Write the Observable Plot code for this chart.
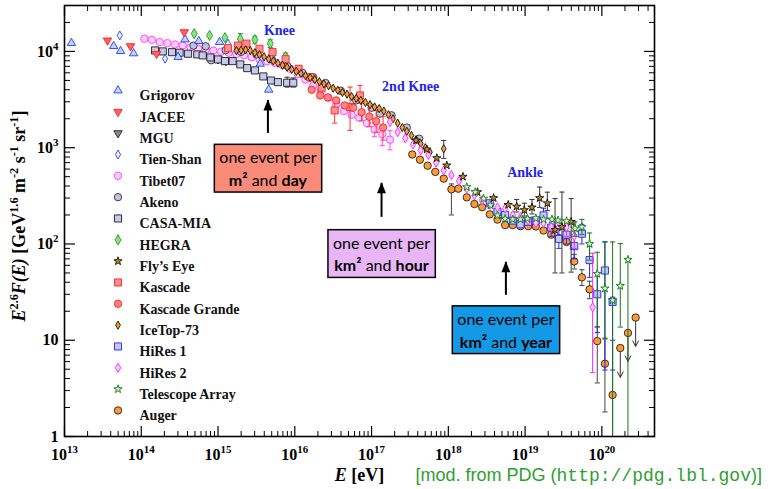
<!DOCTYPE html>
<html><head><meta charset="utf-8">
<script src="https://cdn.jsdelivr.net/npm/d3@7"></script>
<script src="https://cdn.jsdelivr.net/npm/@observablehq/plot@0.6"></script>
<style>html,body{margin:0;padding:0;background:#fff;}#chart{width:778px;height:489px;}</style>
</head><body><div id="chart"></div>
<script>
// ---------------- data (log10 E [eV], E^2.6 F(E)) ----------------
const xTicks = [1e13, 1e14, 1e15, 1e16, 1e17, 1e18, 1e19, 1e20];
const xTickLabels = ["10^{13}", "10^{14}", "10^{15}", "10^{16}", "10^{17}", "10^{18}", "10^{19}", "10^{20}"];
const yTicks = [1, 10, 100, 1000, 10000];
const yTickLabels = ["1", "10", "10^{2}", "10^{3}", "10^{4}"];

const grigorovLgE = [13.09, 13.64, 13.73, 13.90, 14.48, 14.57, 14.75, 15.02, 15.55, 15.66];
const grigorovF   = [12200, 11350, 10070, 9540, 8750, 13300, 12800, 12500, 7450, 4000];
const jaceeLgE = [13.56, 13.86, 14.20, 14.56];
const jaceeF   = [13000, 11350, 9450, 15860];
const mguLgE = [14.90, 15.00, 15.10];
const mguF   = [8600, 8300, 7950];
const tienShanLgE = [13.72, 14.31, 15.13];
const tienShanF   = [14660, 8400, 12050];
const tibetLgE = [14.04,14.14,14.24,14.34,14.44,14.54,14.64,14.74,14.84,14.94,15.04,15.14,15.24,15.34,15.44,15.54,15.64,15.74,15.84,15.94,16.04,16.14,16.24,16.34,16.44,16.54,16.64,16.74,16.84,16.94,17.04,17.14,17.24];
const tibetF   = [13550,13200,12500,12200,11800,11500,11000,10700,10400,10200,9950,9700,9400,9100,8700,8300,7900,7600,7200,6600,5800,5100,4400,3900,3300,2800,2400,2200,2050,1800,1550,1380,1210];
const tibetErr = [[17.04,1300,1800],[17.14,1050,1700],[17.24,950,1500]];
const akenoLgE = [14.68, 14.84, 14.91, 15.10, 15.30, 15.50, 15.70, 15.90, 16.10, 16.24, 16.40, 16.60, 16.80, 17.00, 17.11, 17.26, 17.46, 17.62];
const akenoF   = [11500, 11300, 8100, 10300, 9900, 9300, 8300, 7100, 6000, 5400, 4700, 3900, 3100, 2600, 2260, 2170, 1620, 1240];
const casaLgE = [14.18,14.28,14.40,14.50,14.61,14.73,14.80,14.90,15.00,15.09,15.19,15.29,15.38,15.48,15.59,15.69,15.78,15.90,15.98];
const casaF   = [10240,10000,9830,9700,9460,9310,9090,8660,8260,7930,7930,7330,6710,6350,5500,4990,4800,4730,4730];
const casaErr = [[15.90,4260,5400],[15.98,4260,5300]];
const hegraLgE = [14.69, 14.89, 15.09, 15.29, 15.48, 15.68, 15.88];
const hegraF   = [15300, 14660, 13900, 13500, 13250, 12050, 8850];
const hegraErr = [[15.29,12000,15300],[15.48,12200,14400],[15.68,11000,13200],[15.88,7500,9600]];
const flysEyeLgE = [17.58, 17.72, 17.85, 17.98, 18.19, 18.38, 18.59, 18.78, 18.89, 18.99, 19.09, 19.19, 19.29, 19.39, 19.48, 19.60];
const flysEyeF   = [1190, 960, 780, 655, 500, 346, 300, 255, 245, 225, 240, 300, 265, 140, 150, 170];
const flysEyeErr = [[18.89,215,290],[18.99,195,265],[19.09,205,290],[19.19,240,390],[19.29,223,345],[19.39,50,296],[19.48,50,346],[19.60,51,296]];
const kascadeLgE = [15.13, 15.26, 15.37, 15.54, 15.71, 15.88, 16.05, 16.20, 16.35, 16.52, 16.72, 16.85];
const kascadeF   = [10800, 11500, 12050, 10650, 9840, 8300, 6600, 5400, 4200, 2440, 2650, 3490];
const kascadeErr = [[16.52,1800,3100],[16.72,1510,4260],[16.85,2980,4440]];
const kGrandeLgE = [16.22, 16.33, 16.43, 16.54, 16.65, 16.76, 16.87, 16.97, 17.06, 17.15];
const kGrandeF   = [4000, 3490, 3330, 3100, 2750, 2600, 2340, 2100, 1880, 1620];
const kGrandeErr = [[16.87,1900,2900],[16.97,1650,2750],[17.06,1450,2450],[17.15,1200,2100]];
const icetopLgE = [15.24,15.30,15.36,15.42,15.48,15.54,15.60,15.66,15.72,15.78,15.84,15.90,15.96,16.02,16.08,16.14,16.20,16.26,16.32,16.38,16.44,16.50,16.56,16.62,16.68,16.74,16.80,16.86,16.92,16.98,17.04,17.10,17.16,17.22,17.28,17.34,17.40,17.46,17.52,17.58,17.64,17.70,17.76,17.94];
const icetopF   = [10200,10300,10400,10200,9700,9250,8800,8350,7950,7550,7200,6850,6500,6200,5900,5600,5350,5100,4850,4600,4400,4150,3950,3750,3600,3400,3250,3100,2950,2800,2650,2550,2400,2200,2000,1800,1620,1480,1340,1210,1100,1000,900,975];
const icetopErr = [[17.94,775,1190]];
const hires1LgE = [18.54, 18.64, 18.74, 18.84, 18.94, 19.04, 19.14, 19.24, 19.34, 19.44, 19.54, 19.64, 19.74, 19.84, 19.94, 20.04, 20.14];
const hires1F   = [265, 215, 200, 175, 160, 170, 175, 198, 148, 113, 125, 95, 128, 68, 30, 53, 25];
const hires1Err = [[19.24,165,235],[19.34,120,180],[19.44,90,140],[19.54,100,155],[19.64,70,125],[19.74,100,160],[19.84,45,95],[19.94,12,50],[20.04,4.9,105],[20.14,4.9,28]];
const hires2LgE = [17.24,17.34,17.44,17.54,17.64,17.74,17.84,17.94,18.04,18.14,18.24,18.34,18.44,18.54,18.64,18.74,18.84,18.94,19.04,19.14,19.24,19.34,19.44,19.54,19.64,19.88];
const hires2F   = [1850,1450,1250,1080,940,840,700,580,520,450,375,320,285,255,240,234,200,190,175,165,165,150,150,150,120,22];
const hires2Err = [[19.54,120,170],[19.64,90,165],[19.88,4.6,80]];
const taLgE = [18.24,18.35,18.46,18.55,18.64,18.74,18.84,18.94,19.03,19.14,19.24,19.35,19.43,19.54,19.65,19.74,19.84,19.94,20.04,20.14,20.24,20.34];
const taF   = [390,346,296,252,198,183,180,180,183,185,180,180,176,173,145,150,100,49,34.5,26,36.7,68.6];
const taErr = [[19.65,120,170],[19.74,125,180],[19.84,68,130],[19.94,13.8,82],[20.04,10.3,105],[20.14,0.5,105],[20.24,13.7,101],[20.34,0.5,68.6]];
const augerLgE = [17.53,17.63,17.73,17.83,17.94,18.04,18.13,18.24,18.34,18.44,18.54,18.64,18.74,18.84,18.94,19.04,19.14,19.24,19.34,19.44,19.54,19.64,19.74,19.84,19.94,20.04,20.14];
const augerF   = [850,750,650,560,477,370,375,305,260,241,203,179,157,157,153,153,152,138,125,115,105,66,45,33.8,9.8,5.7,2.7];
const augerErr = [[18.04,200,420],[19.64,55,78],[19.74,37,54],[19.84,27,41],[19.94,3.6,13.7],[20.04,1.8,10.5],[20.14,0.5,10]];
const augerLimitLgE = [20.24, 20.34, 20.44];
const augerLimitF   = [8.3, 11.9, 17.2];
const augerLimitTo  = [4.1, 6.0, 8.6];

const featureLgE = [15.80, 17.51, 19.00];
const featureF = [16500, 4330, 555];
const featureNames = ["Knee", "2nd Knee", "Ankle"];

const eventLgE = [15.65, 17.13, 18.75];
const eventBoxF = [624, 81, 13.1];
const eventArrowBase = [1407, 189, 29.3];
const eventArrowTip = [3100, 426, 64.4];
const eventLine1 = ["one event per", "one event per", "one event per"];
const eventLine2 = ["*m²* and *day*", "*km²* and *hour*", "*km²* and *year*"];

const yLabel = "~E~^{2.6}~F(E)~ [GeV^{1.6} m^{-2} s^{-1} sr^{-1}]";
const xLabel = "~E~ [eV]";
const credit = "[mod. from PDG (`http://pdg.lbl.gov`)]";

// ---------------- styles ----------------
const serif = "Liberation Serif, Times New Roman, serif";
const series = [
  {name: "Grigorov", lgE: grigorovLgE, F: grigorovF, err: [], symbol: "triangle", rotate: 0, fill: "#c4d2ff", stroke: "#1f3cff", r: 3.1},
  {name: "JACEE", lgE: jaceeLgE, F: jaceeF, err: [], symbol: "triangle", rotate: 180, fill: "#ff6464", stroke: "#ff1a1a", r: 3.1},
  {name: "MGU", lgE: mguLgE, F: mguF, err: [], symbol: "triangle", rotate: 180, fill: "#8c8c8c", stroke: "#222", r: 3.1},
  {name: "Tien-Shan", lgE: tienShanLgE, F: tienShanF, err: [], symbol: "diamond", rotate: 0, fill: "#eef0ff", stroke: "#1f3cff", r: 2.7},
  {name: "Tibet07", lgE: tibetLgE, F: tibetF, err: tibetErr, symbol: "circle", rotate: 0, fill: "#ffd0ff", stroke: "#ff3cff", r: 3.7},
  {name: "Akeno", lgE: akenoLgE, F: akenoF, err: [], symbol: "circle", rotate: 0, fill: "#c0c0e6", stroke: "#333", r: 3.7},
  {name: "CASA-MIA", lgE: casaLgE, F: casaF, err: casaErr, symbol: "square", rotate: 0, fill: "#c8c8ee", stroke: "#1a1a1a", r: 4},
  {name: "HEGRA", lgE: hegraLgE, F: hegraF, err: hegraErr, symbol: "diamond", rotate: 0, fill: "#8ee08e", stroke: "#1f9a1f", r: 3.1},
  {name: "Fly’s Eye", lgE: flysEyeLgE, F: flysEyeF, err: flysEyeErr, symbol: "star", rotate: 0, fill: "#c08a18", stroke: "#111", r: 2.6},
  {name: "Kascade", lgE: kascadeLgE, F: kascadeF, err: kascadeErr, symbol: "square", rotate: 0, fill: "#ff9090", stroke: "#ff2020", r: 4},
  {name: "Kascade Grande", lgE: kGrandeLgE, F: kGrandeF, err: kGrandeErr, symbol: "circle", rotate: 0, fill: "#ff8484", stroke: "#ff2020", r: 3.7},
  {name: "IceTop-73", lgE: icetopLgE, F: icetopF, err: icetopErr, symbol: "diamond", rotate: 0, fill: "#ff9a30", stroke: "#111", r: 2.5},
  {name: "HiRes 1", lgE: hires1LgE, F: hires1F, err: hires1Err, symbol: "square", rotate: 0, fill: "#c8c8f4", stroke: "#2020ff", r: 4},
  {name: "HiRes 2", lgE: hires2LgE, F: hires2F, err: hires2Err, symbol: "diamond", rotate: 0, fill: "#ffc8ff", stroke: "#ff20ff", r: 2.8},
  {name: "Telescope Array", lgE: taLgE, F: taF, err: taErr, symbol: "star", rotate: 0, fill: "#d4f2d4", stroke: "#137a13", r: 2.6},
  {name: "Auger", lgE: augerLgE, F: augerF, err: augerErr, symbol: "circle", rotate: 0, fill: "#ff9a33", stroke: "#222", r: 3.7}
];
const errColor = {"Tibet07": "#ff3cff", "CASA-MIA": "#333", "HEGRA": "#1f9a1f", "Fly’s Eye": "#333", "Kascade": "#ff3030",
  "Kascade Grande": "#ff3030", "IceTop-73": "#333", "HiRes 1": "#2020ff", "HiRes 2": "#ff20ff", "Telescope Array": "#137a13", "Auger": "#444"};
const drawOrder = ["Tibet07", "MGU", "Akeno", "CASA-MIA", "Grigorov", "JACEE", "Tien-Shan", "HEGRA", "Kascade", "Kascade Grande",
  "IceTop-73", "Auger", "HiRes 1", "HiRes 2", "Fly’s Eye", "Telescope Array"];
const boxFill = ["#f98b78", "#e8b6f6", "#1499e6"];

// ---------------- build ----------------
const byName = Object.fromEntries(series.map(s => [s.name, s]));
const pts = (lgE, F) => lgE.map((l, i) => ({E: 10 ** l, F: F[i]}));
const errs = arr => arr.map(([l, lo, hi]) => ({E: 10 ** l, lo, hi}));
const capSymbol = {draw(c) { c.moveTo(-2.6, 0); c.lineTo(2.6, 0); }};
const chevronDown = {draw(c) { c.moveTo(-3, -6); c.lineTo(0, 0); c.lineTo(3, -6); }};
const headUp = {draw(c) { c.moveTo(0, -1); c.lineTo(-4.5, 10); c.lineTo(4.5, 10); c.closePath(); }};

const xMinor = [];
for (let e = 13; e <= 20; e++) for (let m = 2; m <= 9; m++) { const v = m * 10 ** e; if (v < 4.85e20) xMinor.push(v); }
const yMinor = [];
for (let e = 0; e <= 4; e++) for (let m = 2; m <= 9; m++) { const v = m * 10 ** e; if (v < 3e4) yMinor.push(v); }
const blank = () => "";

const marks = [];
for (const name of drawOrder) {
  const s = byName[name];
  if (s.err.length) {
    const e = errs(s.err);
    marks.push(Plot.ruleX(e, {x: "E", y1: "lo", y2: "hi", stroke: errColor[name], strokeWidth: 1, clip: true}));
    const caps = e.flatMap(d => [{E: d.E, F: d.lo}, {E: d.E, F: d.hi}]).filter(d => d.F >= 1);
    marks.push(Plot.dot(caps, {x: "E", y: "F", symbol: capSymbol, stroke: errColor[name], fill: "none", strokeWidth: 1, r: 2}));
  }
  if (name === "Auger") {
    const lim = augerLimitLgE.map((l, i) => ({E: 10 ** l, F: augerLimitF[i], to: augerLimitTo[i]}));
    marks.push(Plot.ruleX(lim, {x: "E", y1: "F", y2: "to", stroke: "#333", strokeWidth: 1}));
    marks.push(Plot.dot(lim, {x: "E", y: "to", symbol: chevronDown, stroke: "#333", fill: "none", strokeWidth: 1, r: 2}));
    marks.push(Plot.dot(pts(augerLimitLgE, augerLimitF), {x: "E", y: "F", symbol: s.symbol, fill: s.fill, stroke: s.stroke, strokeWidth: 0.9, r: s.r}));
  }
  marks.push(Plot.dot(pts(s.lgE, s.F), {x: "E", y: "F", symbol: s.symbol, rotate: s.rotate, fill: s.fill, stroke: s.stroke, strokeWidth: 0.9, r: s.r}));
}

// annotations: arrows and boxes
const events = eventLgE.map((l, i) => ({E: 10 ** l, F: eventBoxF[i], base: eventArrowBase[i], tip: eventArrowTip[i], text: eventLine1[i] + "\n" + eventLine2[i]}));
marks.push(Plot.ruleX(events, {x: "E", y1: "base", y2: "tip", stroke: "black", strokeWidth: 2}));
marks.push(Plot.dot(events, {x: "E", y: "tip", symbol: headUp, fill: "black", stroke: "none", r: 3}));
marks.push(Plot.text(events, {x: "E", y: "F", text: "text", lineAnchor: "middle", lineHeight: 1.42, fontFamily: "Lato, Open Sans, sans-serif", fontSize: 16, fill: "black"}));

const features = featureLgE.map((l, i) => ({E: 10 ** l, F: featureF[i], name: featureNames[i]}));
marks.push(Plot.text(features, {x: "E", y: "F", text: "name", fill: "#2424e8", fontFamily: serif, fontWeight: "bold", fontSize: 14}));

// legend
series.forEach((s, i) => {
  marks.push(Plot.dot([0], {frameAnchor: "top-left", dx: 53.5, dy: 85 + i * 21.33, symbol: s.symbol, rotate: s.rotate, fill: s.fill, stroke: s.stroke, strokeWidth: 0.9, r: s.r}));
  marks.push(Plot.text([s.name], {frameAnchor: "top-left", dx: 75, dy: 85 + i * 21.33, text: d => d, textAnchor: "start", fontFamily: serif, fontWeight: "bold", fontSize: 14, fill: "#111"}));
});

// axes (inward ticks on all four sides)
for (const anchor of ["bottom", "top"]) {
  marks.push(Plot.axisX(xTicks, {anchor, tickSize: -10, tickFormat: blank, label: null, strokeWidth: 1.2}));
  marks.push(Plot.axisX(xMinor, {anchor, tickSize: -5, tickFormat: blank, label: null, strokeWidth: 1}));
}
for (const anchor of ["left", "right"]) {
  marks.push(Plot.axisY(yTicks, {anchor, tickSize: -11, tickFormat: blank, label: null, strokeWidth: 1.2}));
  marks.push(Plot.axisY(yMinor, {anchor, tickSize: -6, tickFormat: blank, label: null, strokeWidth: 1}));
}
marks.push(Plot.axisX(xTicks, {anchor: "bottom", tickSize: 0, tickPadding: 12, tickFormat: d => xTickLabels[xTicks.indexOf(d)], label: null, fontFamily: serif, fontWeight: "bold", fontSize: 16}));
marks.push(Plot.axisY(yTicks, {anchor: "left", tickSize: 0, tickPadding: 6, tickFormat: d => yTickLabels[yTicks.indexOf(d)], label: null, fontFamily: serif, fontWeight: "bold", fontSize: 16}));
marks.push(Plot.frame({stroke: "black", strokeWidth: 1.6}));
marks.push(Plot.text([yLabel], {frameAnchor: "left", dx: -45, dy: -5, rotate: -90, textAnchor: "middle", text: d => d, fontFamily: serif, fontWeight: "bold", fontSize: 18, fill: "black"}));
marks.push(Plot.text([xLabel], {frameAnchor: "bottom", dy: 44, textAnchor: "middle", text: d => d, fontFamily: serif, fontWeight: "bold", fontSize: 18, fill: "black"}));
marks.push(Plot.text([credit], {frameAnchor: "bottom-right", dx: -239, dy: 44, text: d => d, textAnchor: "start", fontFamily: "Liberation Sans, Arial, sans-serif", fontSize: 18, fill: "#2f9e2f"}));

const plot = Plot.plot({
  width: 778, height: 489,
  marginLeft: 64, marginRight: 124, marginTop: 5, marginBottom: 53,
  x: {type: "log", domain: [1e13, 4.85e20]},
  y: {type: "log", domain: [1, 3e4]},
  style: {background: "white", fontFamily: serif, overflow: "visible"},
  marks
});
document.getElementById("chart").append(plot);

// ---------------- rich text post-processing ----------------
const NS = "http://www.w3.org/2000/svg";
function rich(el) {
  const s = el.textContent;
  const fs = parseFloat(getComputedStyle(el).fontSize) || 16;
  while (el.firstChild) el.removeChild(el.firstChild);
  const re = /\^\{([^}]*)\}|\*([^*]*)\*|~([^~]*)~|`([^`]*)`|([^\^*~`]+)/g;
  let m, shift = 0;
  while ((m = re.exec(s)) !== null) {
    const t = document.createElementNS(NS, "tspan");
    if (m[1] !== undefined) {
      t.textContent = m[1];
      t.setAttribute("font-size", (fs * 0.68).toFixed(1));
      t.setAttribute("dy", (-fs * 0.42).toFixed(1));
      shift = fs * 0.42;
    } else {
      if (shift) { t.setAttribute("dy", shift.toFixed(1)); shift = 0; }
      if (m[2] !== undefined) { t.textContent = m[2]; t.setAttribute("font-weight", "bold"); }
      else if (m[3] !== undefined) { t.textContent = m[3]; t.setAttribute("font-style", "italic"); }
      else if (m[4] !== undefined) { t.textContent = m[4]; t.setAttribute("font-family", "Liberation Mono, DejaVu Sans Mono, monospace"); }
      else t.textContent = m[5];
    }
    el.appendChild(t);
  }
}
plot.querySelectorAll("text, tspan").forEach(el => {
  if (el.children.length === 0 && /[\^*~`]/.test(el.textContent)) rich(el);
});
// boxes behind the "one event per" annotations
let bi = 0;
plot.querySelectorAll("text").forEach(t => {
  if (!t.textContent.startsWith("one event per")) return;
  const bb = t.getBBox();
  const r = document.createElementNS(NS, "rect");
  r.setAttribute("x", bb.x - 5); r.setAttribute("y", bb.y - 3);
  r.setAttribute("width", bb.width + 10); r.setAttribute("height", bb.height + 6);
  r.setAttribute("fill", boxFill[bi++]); r.setAttribute("stroke", "black"); r.setAttribute("stroke-width", 1.5);
  if (t.getAttribute("transform")) r.setAttribute("transform", t.getAttribute("transform"));
  t.parentNode.insertBefore(r, t);
});
</script>
</body></html>
